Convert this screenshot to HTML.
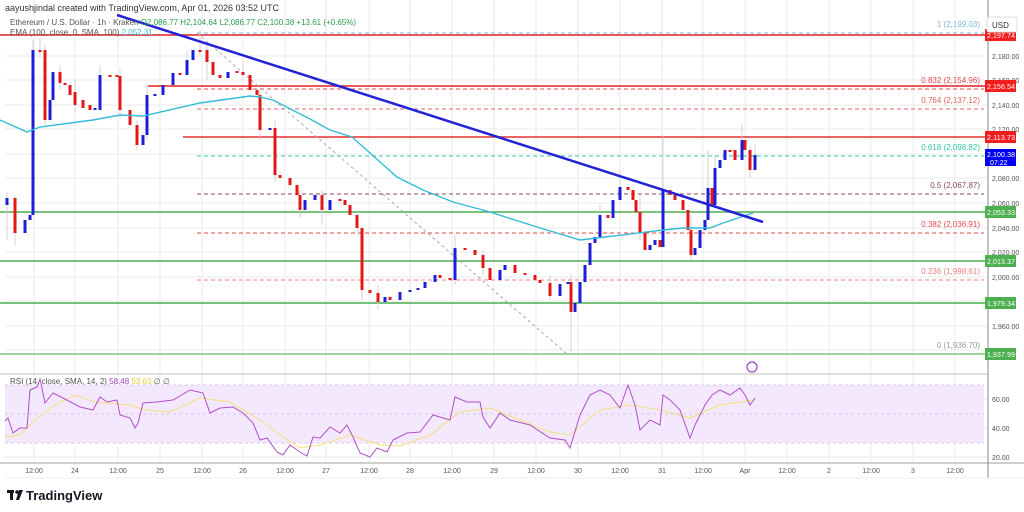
<!DOCTYPE html>
<html><head><meta charset="utf-8"><style>
html,body{margin:0;padding:0;background:#fff;width:1024px;height:512px;overflow:hidden}
svg{display:block;font-family:"Liberation Sans",sans-serif}
</style></head><body>
<svg width="1024" height="512" xmlns="http://www.w3.org/2000/svg">
<rect width="1024" height="512" fill="#fff"/>
<g stroke="#ebebeb" stroke-width="1">
<path d="M34 0V463M75 0V463M118 0V463M160 0V463M202 0V463M243 0V463M285 0V463M326 0V463M369 0V463M410 0V463M452 0V463M494 0V463M536 0V463M578 0V463M620 0V463M662 0V463M703 0V463M745 0V463M787 0V463M829 0V463M871 0V463M913 0V463M955 0V463"/>
<path d="M5 56H988M5 80H988M5 105H988M5 129H988M5 154H988M5 178H988M5 203H988M5 228H988M5 252H988M5 277H988M5 301H988M5 326H988M5 350H988M5 399H988M5 428H988M5 457H988"/>
</g>
<rect x="5" y="385" width="979" height="58" fill="#f3e8fd"/>
<g stroke="#d8c6e8" stroke-dasharray="3,3"><line x1="5" y1="385" x2="984" y2="385"/><line x1="5" y1="414" x2="984" y2="414"/><line x1="5" y1="443" x2="984" y2="443"/></g>

<g stroke-dasharray="4,3" stroke-width="1">
<line x1="197" y1="33" x2="984" y2="33" stroke="#7ab8e0"/>
<line x1="197" y1="89" x2="984" y2="89" stroke="#e04848"/>
<line x1="197" y1="109" x2="984" y2="109" stroke="#e06060"/>
<line x1="197" y1="156" x2="984" y2="156" stroke="#30c8a0"/>
<line x1="197" y1="194" x2="984" y2="194" stroke="#8b4a5a"/>
<line x1="197" y1="233" x2="984" y2="233" stroke="#e04848"/>
<line x1="197" y1="280" x2="984" y2="280" stroke="#f08080"/>
<line x1="197" y1="354" x2="984" y2="354" stroke="#999"/>
</g>
<g font-size="8" text-anchor="end">
<text x="980" y="27" fill="#7ab8e0">1 (2,199.03)</text>
<text x="980" y="83" fill="#e04848">0.832 (2,154.96)</text>
<text x="980" y="103" fill="#e06060">0.764 (2,137.12)</text>
<text x="980" y="150" fill="#30c8a0">0.618 (2,098.82)</text>
<text x="980" y="188" fill="#8b4a5a">0.5 (2,067.87)</text>
<text x="980" y="227" fill="#e04848">0.382 (2,036.91)</text>
<text x="980" y="274" fill="#f08080">0.236 (1,998.61)</text>
<text x="980" y="348" fill="#999">0 (1,936.70)</text>
</g>
<g stroke-width="1.5">
<line x1="0" y1="35" x2="988" y2="35" stroke="#e02020"/>
<line x1="148" y1="86" x2="988" y2="86" stroke="#e02020"/>
<line x1="183" y1="137" x2="988" y2="137" stroke="#e83030"/>
<line x1="0" y1="212" x2="988" y2="212" stroke="#4caf50"/>
<line x1="0" y1="261" x2="988" y2="261" stroke="#4caf50"/>
<line x1="0" y1="303" x2="988" y2="303" stroke="#4caf50"/>
<line x1="0" y1="354" x2="988" y2="354" stroke="#7cc87c"/>
</g>
<line x1="197" y1="33" x2="567" y2="354" stroke="#aaa" stroke-dasharray="3,3"/>

<path stroke="#c8c8c8" stroke-width="0.8" fill="none" d="M7 192V240M15 195V245M33 40V215M40 38V58M45 45V125M60 65V90M75 80V112M100 65V110M120 70V118M137 120V150M147 85V140M187 50V70M200 30V55M207 45V80M243 62V80M260 90V140M275 120V182M300 190V218M322 190V225M358 210V235M362 225V300M378 285V310M455 235V285M483 250V275M550 275V300M571 275V352M600 205V225M620 170V195M640 195V240M663 135V200M691 215V260M708 150V205M715 155V175M742 125V155M750 145V178M755 145V170"/>
<g fill="#1c1fd6">
<rect x="5.5" y="198" width="3" height="7"/><rect x="23.5" y="220" width="3" height="13"/><rect x="28.5" y="215" width="3" height="5"/><rect x="31.5" y="50" width="3" height="165"/><rect x="48.5" y="100" width="3" height="20"/><rect x="51.5" y="72" width="3" height="28"/><rect x="93.5" y="108" width="3" height="2"/><rect x="98.5" y="75" width="3" height="35"/><rect x="141.5" y="135" width="3" height="10"/><rect x="145.5" y="95" width="3" height="40"/><rect x="153.5" y="94" width="3" height="2"/><rect x="161.5" y="85" width="3" height="10"/><rect x="171.5" y="73" width="3" height="12"/><rect x="185.5" y="60" width="3" height="15"/><rect x="191.5" y="50" width="3" height="10"/><rect x="226.5" y="72" width="3" height="6"/><rect x="268.5" y="128" width="3" height="2"/><rect x="303.5" y="200" width="3" height="10"/><rect x="313.5" y="195" width="3" height="5"/><rect x="328.5" y="200" width="3" height="10"/><rect x="383.5" y="297" width="3" height="5"/><rect x="398.5" y="292" width="3" height="8"/><rect x="408.5" y="290" width="3" height="2"/><rect x="416.5" y="288" width="3" height="2"/><rect x="423.5" y="282" width="3" height="6"/><rect x="433.5" y="275" width="3" height="7"/><rect x="453.5" y="248" width="3" height="32"/><rect x="498.5" y="270" width="3" height="10"/><rect x="503.5" y="265" width="3" height="5"/><rect x="558.5" y="284" width="3" height="12"/><rect x="566.5" y="282" width="3" height="2"/><rect x="573.5" y="303" width="3" height="9"/><rect x="578.5" y="282" width="3" height="21"/><rect x="583.5" y="265" width="3" height="17"/><rect x="588.5" y="243" width="3" height="22"/><rect x="593.5" y="237" width="3" height="6"/><rect x="598.5" y="215" width="3" height="22"/><rect x="611.5" y="200" width="3" height="18"/><rect x="618.5" y="187" width="3" height="13"/><rect x="648.5" y="245" width="3" height="5"/><rect x="653.5" y="240" width="3" height="5"/><rect x="661.5" y="190" width="3" height="57"/><rect x="693.5" y="248" width="3" height="7"/><rect x="698.5" y="230" width="3" height="18"/><rect x="703.5" y="220" width="3" height="10"/><rect x="706.5" y="188" width="3" height="32"/><rect x="713.5" y="168" width="3" height="37"/><rect x="718.5" y="160" width="3" height="8"/><rect x="723.5" y="150" width="3" height="10"/><rect x="740.5" y="140" width="3" height="20"/><rect x="753.5" y="155" width="3" height="15"/>
</g>
<g fill="#e01818">
<rect x="13.5" y="198" width="3" height="35"/><rect x="38.5" y="50" width="3" height="2"/><rect x="43.5" y="50" width="3" height="70"/><rect x="58.5" y="72" width="3" height="11"/><rect x="63.5" y="83" width="3" height="2"/><rect x="68.5" y="85" width="3" height="10"/><rect x="73.5" y="92" width="3" height="13"/><rect x="81.5" y="100" width="3" height="8"/><rect x="88.5" y="105" width="3" height="5"/><rect x="108.5" y="75" width="3" height="2"/><rect x="115.5" y="75" width="3" height="2"/><rect x="118.5" y="76" width="3" height="34"/><rect x="128.5" y="110" width="3" height="15"/><rect x="135.5" y="125" width="3" height="20"/><rect x="178.5" y="73" width="3" height="2"/><rect x="198.5" y="50" width="3" height="2"/><rect x="205.5" y="50" width="3" height="12"/><rect x="211.5" y="62" width="3" height="13"/><rect x="218.5" y="75" width="3" height="3"/><rect x="235.5" y="71" width="3" height="2"/><rect x="241.5" y="72" width="3" height="3"/><rect x="248.5" y="75" width="3" height="15"/><rect x="255.5" y="90" width="3" height="5"/><rect x="258.5" y="95" width="3" height="35"/><rect x="273.5" y="128" width="3" height="47"/><rect x="278.5" y="175" width="3" height="3"/><rect x="288.5" y="178" width="3" height="7"/><rect x="295.5" y="185" width="3" height="10"/><rect x="298.5" y="195" width="3" height="15"/><rect x="320.5" y="195" width="3" height="15"/><rect x="338.5" y="199" width="3" height="2"/><rect x="343.5" y="200" width="3" height="5"/><rect x="348.5" y="205" width="3" height="10"/><rect x="355.5" y="215" width="3" height="13"/><rect x="360.5" y="228" width="3" height="62"/><rect x="368.5" y="290" width="3" height="3"/><rect x="376.5" y="293" width="3" height="9"/><rect x="388.5" y="297" width="3" height="3"/><rect x="438.5" y="275" width="3" height="3"/><rect x="448.5" y="278" width="3" height="2"/><rect x="463.5" y="248" width="3" height="2"/><rect x="473.5" y="250" width="3" height="5"/><rect x="481.5" y="255" width="3" height="13"/><rect x="488.5" y="268" width="3" height="12"/><rect x="513.5" y="265" width="3" height="8"/><rect x="523.5" y="273" width="3" height="2"/><rect x="533.5" y="275" width="3" height="5"/><rect x="538.5" y="280" width="3" height="3"/><rect x="548.5" y="283" width="3" height="13"/><rect x="569.5" y="282" width="3" height="30"/><rect x="606.5" y="215" width="3" height="3"/><rect x="626.5" y="187" width="3" height="3"/><rect x="631.5" y="190" width="3" height="10"/><rect x="634.5" y="200" width="3" height="12"/><rect x="638.5" y="212" width="3" height="21"/><rect x="643.5" y="233" width="3" height="17"/><rect x="658.5" y="240" width="3" height="7"/><rect x="668.5" y="190" width="3" height="5"/><rect x="673.5" y="195" width="3" height="5"/><rect x="681.5" y="200" width="3" height="10"/><rect x="686.5" y="210" width="3" height="20"/><rect x="689.5" y="230" width="3" height="25"/><rect x="710.5" y="188" width="3" height="17"/><rect x="728.5" y="150" width="3" height="2"/><rect x="733.5" y="150" width="3" height="10"/><rect x="743.5" y="140" width="3" height="10"/><rect x="748.5" y="150" width="3" height="20"/>
</g>
<polyline fill="none" stroke="#33bcd8" stroke-width="1.4" points="0,120 27,132 40,127 93,120 120,115 143,116 200,103 250,96 260,97 273,100 310,119 330,130 352,137 370,153 397,177 423,190 453,202 490,212 537,227 580,240 597,238 663,230 683,228 710,228 723,223 753,213"/>
<line x1="117" y1="15" x2="763" y2="222" stroke="#2222d6" stroke-width="2.5"/>

<polyline fill="none" stroke="#f5e07a" stroke-width="1" points="5,437 20,435 35,420 55,405 75,395 95,402 130,405 145,410 170,412 200,398 230,402 260,420 280,435 300,448 320,445 350,435 380,445 400,446 430,435 460,412 490,408 520,420 550,432 570,435 600,410 630,405 660,410 690,418 720,405 755,400"/>
<polyline fill="none" stroke="#b050c8" stroke-width="1" points="5,421 8,418 13,433 20,428 27,428 30,390 37,387 40,379 45,403 53,393 63,398 80,407 93,410 100,397 107,402 117,400 120,415 130,418 135,428 138,423 143,403 157,402 173,400 190,390 203,393 210,413 220,408 233,407 243,413 253,423 260,440 267,438 277,452 283,455 290,445 300,452 307,456 313,437 320,438 330,427 340,433 347,425 353,437 360,453 370,457 377,448 387,452 393,440 407,433 420,432 433,415 450,420 455,397 467,402 480,402 483,417 490,428 500,413 510,420 530,425 550,438 565,440 570,448 580,415 590,395 600,390 610,395 620,408 628,385 635,405 640,430 650,420 660,425 663,395 670,400 680,410 690,438 695,425 705,405 712,395 720,390 730,395 740,388 745,395 750,405 755,398"/>

<line x1="0" y1="374" x2="988" y2="374" stroke="#e0e0e0" stroke-width="2"/>
<line x1="0" y1="463" x2="1024" y2="463" stroke="#cfcfcf" stroke-width="2"/>
<line x1="988" y1="0" x2="988" y2="478" stroke="#888" stroke-width="1"/>
<line x1="5" y1="478" x2="1024" y2="478" stroke="#eee"/>

<g font-size="7" fill="#555" text-anchor="middle">
<text x="34" y="473">12:00</text><text x="75" y="473">24</text><text x="118" y="473">12:00</text><text x="160" y="473">25</text><text x="202" y="473">12:00</text><text x="243" y="473">26</text><text x="285" y="473">12:00</text><text x="326" y="473">27</text><text x="369" y="473">12:00</text><text x="410" y="473">28</text><text x="452" y="473">12:00</text><text x="494" y="473">29</text><text x="536" y="473">12:00</text><text x="578" y="473">30</text><text x="620" y="473">12:00</text><text x="662" y="473">31</text><text x="703" y="473">12:00</text><text x="745" y="473">Apr</text><text x="787" y="473">12:00</text><text x="829" y="473">2</text><text x="871" y="473">12:00</text><text x="913" y="473">3</text><text x="955" y="473">12:00</text>
</g>
<g font-size="7" fill="#555">
<text x="992" y="59">2,180.00</text><text x="992" y="83">2,160.00</text><text x="992" y="108">2,140.00</text><text x="992" y="132">2,120.00</text><text x="992" y="181">2,080.00</text><text x="992" y="206">2,060.00</text><text x="992" y="231">2,040.00</text><text x="992" y="255">2,020.00</text><text x="992" y="280">2,000.00</text><text x="992" y="329">1,960.00</text><text x="992" y="402">60.00</text><text x="992" y="431">40.00</text><text x="992" y="460">20.00</text>
</g>
<g font-size="7" fill="#fff">
<rect x="985" y="29" width="31" height="12" fill="#f21e1e"/><text x="987" y="38" textLength="28">2,197.74</text>
<rect x="985" y="80" width="31" height="12" fill="#f21e1e"/><text x="987" y="89" textLength="28">2,156.54</text>
<rect x="985" y="131" width="31" height="12" fill="#f21e1e"/><text x="987" y="140" textLength="28">2,113.73</text>
<rect x="985" y="149" width="31" height="17" fill="#0000ee"/><text x="987" y="157" textLength="28">2,100.38</text><text x="990" y="165">07:22</text>
<rect x="985" y="206" width="31" height="12" fill="#4caf50"/><text x="987" y="215" textLength="28">2,053.33</text>
<rect x="985" y="255" width="31" height="12" fill="#4caf50"/><text x="987" y="264" textLength="28">2,013.37</text>
<rect x="985" y="297" width="31" height="12" fill="#4caf50"/><text x="987" y="306" textLength="28">1,979.34</text>
<rect x="985" y="348" width="31" height="12" fill="#4caf50"/><text x="987" y="357" textLength="28">1,937.99</text>
</g>
<rect x="987" y="17" width="30" height="15" fill="#fff" stroke="#ddd" rx="2"/>
<text x="992" y="28" font-size="8" fill="#333">USD</text>
<text x="5" y="11" font-size="9" fill="#333">aayushjindal created with TradingView.com, Apr 01, 2026 03:52 UTC</text>
<text x="10" y="25" font-size="8" fill="#555">Ethereum / U.S. Dollar · 1h · Kraken <tspan fill="#2a9d4a">O2,086.77 H2,104.64 L2,086.77 C2,100.38 +13.61 (+0.65%)</tspan></text>
<text x="10" y="35" font-size="8" fill="#555">EMA (100, close, 0, SMA, 100) <tspan fill="#33bcd8">2,052.31</tspan></text>
<text x="10" y="384" font-size="8" fill="#555">RSI (14, close, SMA, 14, 2) <tspan fill="#a040c0">58.48</tspan> <tspan fill="#e8cf30">53.63</tspan> ∅ ∅</text>
<circle cx="752" cy="367" r="5" fill="none" stroke="#a040c0" stroke-width="1.2"/>
<g transform="translate(7,490)"><rect x="0" y="0" width="7" height="3" fill="#131722"/><rect x="3" y="0" width="3" height="10" fill="#131722"/><circle cx="10" cy="2" r="1.8" fill="#131722"/><path d="M12 0 L16 0 L12 10 L9 10 Z" fill="#131722"/></g>
<text x="26" y="500" font-size="13" font-weight="bold" fill="#131722">TradingView</text>
</svg>
</body></html>
